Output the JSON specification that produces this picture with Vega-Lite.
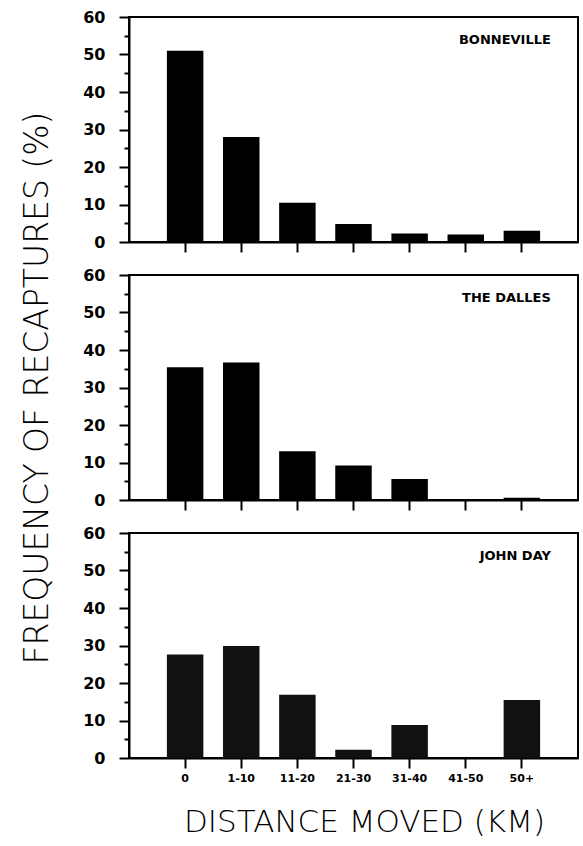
{
  "$schema": "https://vega.github.io/schema/vega-lite/v6.json",
  "background": "white",
  "padding": {"left": 20, "top": 8, "right": 5, "bottom": 5},
  "datasets": {
    "recap": [
      {"site": "BONNEVILLE", "dist": "0", "pct": 51.0},
      {"site": "BONNEVILLE", "dist": "1-10", "pct": 28.0},
      {"site": "BONNEVILLE", "dist": "11-20", "pct": 10.5},
      {"site": "BONNEVILLE", "dist": "21-30", "pct": 4.8},
      {"site": "BONNEVILLE", "dist": "31-40", "pct": 2.3},
      {"site": "BONNEVILLE", "dist": "41-50", "pct": 2.0},
      {"site": "BONNEVILLE", "dist": "50+", "pct": 3.0},
      {"site": "THE DALLES", "dist": "0", "pct": 35.4},
      {"site": "THE DALLES", "dist": "1-10", "pct": 36.7},
      {"site": "THE DALLES", "dist": "11-20", "pct": 13.0},
      {"site": "THE DALLES", "dist": "21-30", "pct": 9.2},
      {"site": "THE DALLES", "dist": "31-40", "pct": 5.6},
      {"site": "THE DALLES", "dist": "41-50", "pct": 0.3},
      {"site": "THE DALLES", "dist": "50+", "pct": 0.6},
      {"site": "JOHN DAY", "dist": "0", "pct": 27.6},
      {"site": "JOHN DAY", "dist": "1-10", "pct": 29.9},
      {"site": "JOHN DAY", "dist": "11-20", "pct": 16.9},
      {"site": "JOHN DAY", "dist": "21-30", "pct": 2.2},
      {"site": "JOHN DAY", "dist": "31-40", "pct": 8.8},
      {"site": "JOHN DAY", "dist": "41-50", "pct": 0.0},
      {"site": "JOHN DAY", "dist": "50+", "pct": 15.5}
    ]
  },
  "config": {
    "view": {"stroke": "black", "strokeWidth": 2},
    "axis": {
      "domainColor": "black", "domainWidth": 2,
      "tickColor": "black", "tickWidth": 2,
      "labelColor": "black", "titleColor": "black",
      "grid": false,
      "labelFont": "DejaVu Sans", "labelFontWeight": "bold",
      "titleFont": "DejaVu Sans", "titleFontWeight": 300, "titleFontSize": 31
    }
  },
  "spacing": 33,
  "bounds": "flush",
  "vconcat": [
    {
      "width": 449, "height": 225,
      "data": {"name": "recap"},
      "transform": [{"filter": "datum.site === 'BONNEVILLE'"}],
      "encoding": {
        "x": {"field": "dist", "type": "nominal", "sort": null,
          "scale": {"domain": ["0", "1-10", "11-20", "21-30", "31-40", "41-50", "50+"], "paddingInner": 0.35, "paddingOuter": 0.675},
          "axis": {"title": null, "labels": false, "tickSize": 10}},
        "y": {"field": "pct", "type": "quantitative",
          "scale": {"domain": [0, 60], "nice": false},
          "axis": {"title": null, "values": [0, 5, 10, 15, 20, 25, 30, 35, 40, 45, 50, 55, 60],
            "labelExpr": "datum.value % 10 === 0 ? datum.label : ''",
            "tickSize": {"condition": {"test": "datum.value % 10 === 0", "value": 10}, "value": 5},
            "labelPadding": 14, "labelFontSize": 16}}
      },
      "layer": [
        {"mark": {"type": "bar", "color": "black"}},
        {"transform": [{"filter": "datum.dist === '50+'"}],
         "mark": {"type": "text", "align": "right", "baseline": "middle", "dx": 29, "font": "DejaVu Sans", "fontWeight": "bold", "fontSize": 13, "color": "black"},
         "encoding": {"y": {"datum": 54}, "text": {"field": "site"}}}
      ]
    },
    {
      "width": 449, "height": 225,
      "data": {"name": "recap"},
      "transform": [{"filter": "datum.site === 'THE DALLES'"}],
      "encoding": {
        "x": {"field": "dist", "type": "nominal", "sort": null,
          "scale": {"domain": ["0", "1-10", "11-20", "21-30", "31-40", "41-50", "50+"], "paddingInner": 0.35, "paddingOuter": 0.675},
          "axis": {"title": null, "labels": false, "tickSize": 10}},
        "y": {"field": "pct", "type": "quantitative",
          "scale": {"domain": [0, 60], "nice": false},
          "axis": {"title": "FREQUENCY OF RECAPTURES (%)", "titlePadding": 28, "titleFontSize": 33,
            "values": [0, 5, 10, 15, 20, 25, 30, 35, 40, 45, 50, 55, 60],
            "labelExpr": "datum.value % 10 === 0 ? datum.label : ''",
            "tickSize": {"condition": {"test": "datum.value % 10 === 0", "value": 10}, "value": 5},
            "labelPadding": 14, "labelFontSize": 16}}
      },
      "layer": [
        {"mark": {"type": "bar", "color": "black"}},
        {"transform": [{"filter": "datum.dist === '50+'"}],
         "mark": {"type": "text", "align": "right", "baseline": "middle", "dx": 29, "font": "DejaVu Sans", "fontWeight": "bold", "fontSize": 13, "color": "black"},
         "encoding": {"y": {"datum": 54}, "text": {"field": "site"}}}
      ]
    },
    {
      "width": 449, "height": 225,
      "data": {"name": "recap"},
      "transform": [{"filter": "datum.site === 'JOHN DAY'"}],
      "encoding": {
        "x": {"field": "dist", "type": "nominal", "sort": null,
          "scale": {"domain": ["0", "1-10", "11-20", "21-30", "31-40", "41-50", "50+"], "paddingInner": 0.35, "paddingOuter": 0.675},
          "axis": {"title": "DISTANCE MOVED (KM)", "labelAngle": 0, "labelFontSize": 11, "tickSize": 10, "labelPadding": 4, "titlePadding": 24, "titleX": 235}},
        "y": {"field": "pct", "type": "quantitative",
          "scale": {"domain": [0, 60], "nice": false},
          "axis": {"title": null, "values": [0, 5, 10, 15, 20, 25, 30, 35, 40, 45, 50, 55, 60],
            "labelExpr": "datum.value % 10 === 0 ? datum.label : ''",
            "tickSize": {"condition": {"test": "datum.value % 10 === 0", "value": 10}, "value": 5},
            "labelPadding": 14, "labelFontSize": 16}}
      },
      "layer": [
        {"mark": {"type": "bar", "color": "#111111"}},
        {"transform": [{"filter": "datum.dist === '50+'"}],
         "mark": {"type": "text", "align": "right", "baseline": "middle", "dx": 29, "font": "DejaVu Sans", "fontWeight": "bold", "fontSize": 13, "color": "black"},
         "encoding": {"y": {"datum": 54}, "text": {"field": "site"}}}
      ]
    }
  ]
}
